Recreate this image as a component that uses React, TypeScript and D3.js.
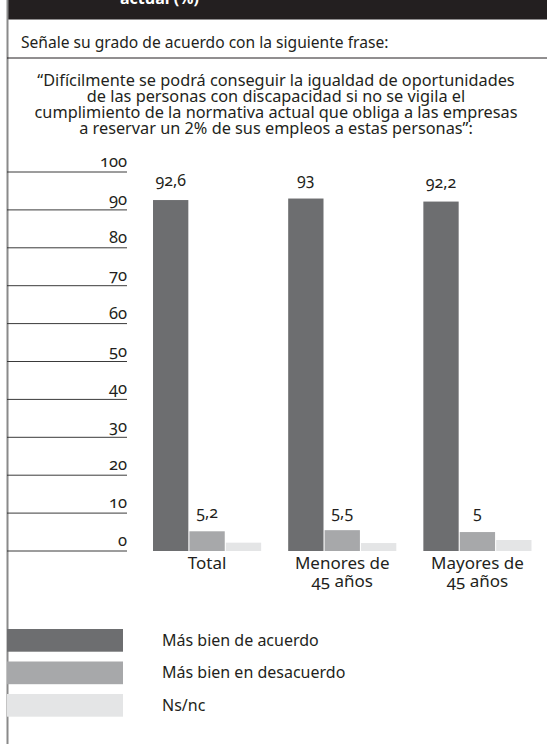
import React from "react";
import * as d3 from "d3";

const categories = [["Total"], ["Menores de", "45 años"], ["Mayores de", "45 años"]];
const categoryKeys = ["Total", "Menores de 45 años", "Mayores de 45 años"];
const seriesNames = ["Más bien de acuerdo", "Más bien en desacuerdo", "Ns/nc"];
const acuerdo = [92.6, 93, 92.2];
const desacuerdo = [5.2, 5.5, 5];
const nsnc = [2.2, 2.1, 2.9];
const acuerdoLabels = ["92,6", "93", "92,2"];
const desacuerdoLabels = ["5,2", "5,5", "5"];
const yTicks = [0, 10, 20, 30, 40, 50, 60, 70, 80, 90, 100];
const questionText = "Señale su grado de acuerdo con la siguiente frase:";
const quoteLines = [
  "“Difícilmente se podrá conseguir la igualdad de oportunidades",
  "de las personas con discapacidad si no se vigila el",
  "cumplimiento de la normativa actual que obliga a las empresas",
  "a reservar un 2% de sus empleos a estas personas”:",
];
const headerText = "actual (%)";

const colors = ["#6d6e70", "#a7a8aa", "#e4e5e6"];
const FONT = "'Noto Sans', 'Open Sans', sans-serif";

export default function App() {
  const W = 547;
  const H = 744;
  const y = d3.scaleLinear().domain([0, 100]).range([551, 172]);
  const x0 = d3.scaleBand<string>().domain(categoryKeys).range([139.5, 545]).paddingInner(0.2).paddingOuter(0.1);
  const x1 = d3.scaleBand<string>().domain(seriesNames).range([0, x0.bandwidth()]).paddingInner(0.03);
  const series = [acuerdo, desacuerdo, nsnc];
  const numStyle: React.CSSProperties = { fontFeatureSettings: "'onum' 1" };

  return (
    <svg
      width={W}
      height={H}
      style={{ position: "absolute", left: 0, top: 0, background: "#fff" }}
      fontFamily={FONT}
    >
      {/* header band */}
      <rect x={7} y={0} width={W - 7} height={19.5} fill="#231f20" />
      <text x={120} y={4} fill="#fff" fontWeight="bold" fontSize={16}>
        {headerText}
      </text>
      {/* left vertical rule */}
      <line x1={7.5} x2={7.5} y1={0} y2={H} stroke="#8a8a8a" strokeWidth={2} />

      <text x={21} y={48} fontSize={15.6} fill="#231f20">
        {questionText}
      </text>
      <line x1={7} x2={W} y1={58} y2={58} stroke="#231f20" strokeWidth={1} />

      <text fontSize={16.3} textAnchor="middle" fill="#231f20">
        {quoteLines.map((l, i) => (
          <tspan key={i} x={276} y={86 + i * 16}>
            {l}
          </tspan>
        ))}
      </text>

      {/* y axis ticks */}
      {yTicks.map((t) => (
        <g key={t}>
          <line x1={7} x2={127} y1={y(t)} y2={y(t)} stroke="#3a3a3a" strokeWidth={1} />
          <text x={127} y={y(t) - 5} textAnchor="end" fontSize={16.5} fill="#231f20" style={numStyle}>
            {t}
          </text>
        </g>
      ))}

      {/* bars */}
      {categoryKeys.map((c, ci) => (
        <g key={c} transform={`translate(${x0(c)},0)`}>
          {seriesNames.map((s, si) => {
            const v = series[si][ci];
            return (
              <rect
                key={s}
                x={x1(s)}
                y={y(v)}
                width={x1.bandwidth()}
                height={y(0) - y(v)}
                fill={colors[si]}
              />
            );
          })}
          <text
            x={(x1(seriesNames[0]) as number) + x1.bandwidth() / 2}
            y={y(acuerdo[ci]) - 14}
            textAnchor="middle"
            fontSize={16}
            fill="#231f20"
            style={numStyle}
          >
            {acuerdoLabels[ci]}
          </text>
          <text
            x={(x1(seriesNames[1]) as number) + x1.bandwidth() / 2}
            y={518}
            textAnchor="middle"
            fontSize={16}
            fill="#231f20"
            style={numStyle}
          >
            {desacuerdoLabels[ci]}
          </text>
          <text x={x0.bandwidth() / 2} textAnchor="middle" fontSize={17} fill="#231f20" style={numStyle}>
            {categories[ci].map((l, li) => (
              <tspan key={li} x={x0.bandwidth() / 2} y={569 + li * 18}>
                {l}
              </tspan>
            ))}
          </text>
        </g>
      ))}

      {/* legend */}
      {seriesNames.map((s, i) => (
        <g key={s} transform={`translate(0,${629 + i * 32.5})`}>
          <rect x={7} y={0} width={116} height={22.7} fill={colors[i]} />
          <text x={162} y={16.5} fontSize={16} fill="#231f20">
            {s}
          </text>
        </g>
      ))}
    </svg>
  );
}
